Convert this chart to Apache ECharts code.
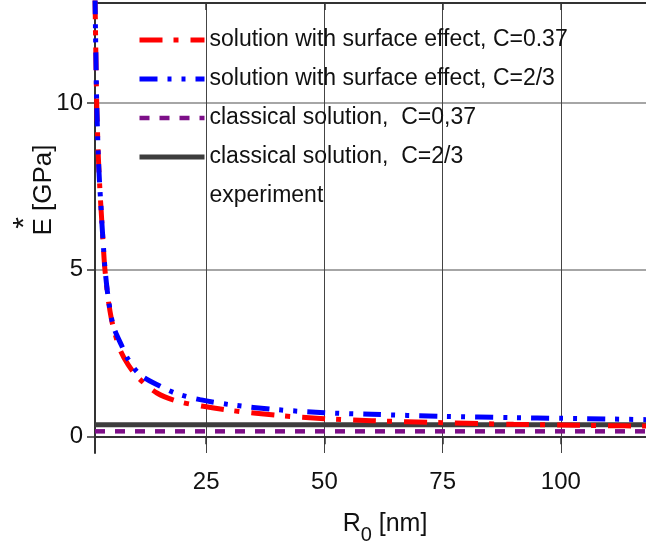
<!DOCTYPE html>
<html>
<head>
<meta charset="utf-8">
<script src="https://cdn.jsdelivr.net/npm/echarts@6/dist/echarts.min.js"></script>
<style>
    html, body { margin: 0; padding: 0; background: #fff; }
    #chart { width: 646px; height: 548px; }
</style>
</head>
<body>
<div id="chart"></div>
<script>
// R0 [nm] / E* [GPa]
var rRed = [1.5, 1.7, 1.86, 2.0, 2.2, 2.5, 2.7, 3.0, 3.3, 3.6, 4.3, 5.0, 5.7, 6.8, 8.5, 10.7, 14.6, 19, 24.4, 30, 40, 50, 60, 75, 90, 100, 110, 118];
var eRed = [13.2, 11.3, 10.0, 9.3, 8.4, 7.5, 7.0, 6.3, 5.6, 5.0, 4.1, 3.5, 3.1, 2.6, 2.15, 1.75, 1.3, 1.05, 0.9, 0.78, 0.63, 0.53, 0.47, 0.41, 0.36, 0.34, 0.32, 0.31];
var rBlue = [1.5, 1.7, 1.86, 2.0, 2.2, 2.5, 2.7, 3.0, 3.3, 3.6, 4.3, 5.4, 7.2, 8.55, 11, 15.3, 18.8, 23.7, 30, 40, 50, 60, 75, 90, 100, 110, 118];
var eBlue = [13.2, 11.3, 10.0, 9.3, 8.4, 7.5, 7.05, 6.3, 5.65, 5.05, 4.15, 3.3, 2.7, 2.3, 1.85, 1.5, 1.28, 1.1, 0.95, 0.8, 0.71, 0.66, 0.6, 0.56, 0.54, 0.52, 0.5];
var rClassic = [1.5, 118];
var eClassic037 = [0.15, 0.15];
var eClassic23 = [0.35, 0.35];
var xTicks = [25, 50, 75, 100];
var yTicks = [0, 5, 10];
var names = [
    'solution with surface effect, C=0.37',
    'solution with surface effect, C=2/3',
    'classical solution,  C=0,37',
    'classical solution,  C=2/3',
    'experiment'
];

function pairs(xs, ys) {
    return xs.map(function (x, i) { return [x, ys[i]]; });
}

var myChart = echarts.init(document.getElementById('chart'), null, { renderer: 'canvas' });
var font = 'Liberation Sans, Arial, sans-serif';

// 线型
var redLine = { color: '#ff0000', width: 5, type: [23, 11, 5, 12] };
var blueLine = { color: '#0000ff', width: 5, type: [18, 10, 4, 10, 4, 10] };
var purpleLine = { color: '#7d0f88', width: 4.5, type: [10, 10] };
var greyLine = { color: '#3d3d3d', width: 5, type: 'solid' };

option = {
    animation: false,
    backgroundColor: '#fff',
    grid: {
        left: 95,
        right: 0,
        top: 3,
        bottom: 95,
        outerBoundsMode: 'none',
        containLabel: false
    },
    legend: {
        orient: 'vertical',
        left: 132,
        top: 22,
        itemWidth: 65,
        itemHeight: 14,
        itemGap: 13,
        itemStyle: { opacity: 0 },
        textStyle: {
            fontFamily: font,
            fontSize: 23,
            color: '#111',
            lineHeight: 26
        },
        data: [
            { name: names[0], lineStyle: redLine },
            { name: names[1], lineStyle: blueLine },
            { name: names[2], lineStyle: purpleLine },
            { name: names[3], lineStyle: greyLine },
            { name: names[4], icon: 'none', lineStyle: { width: 0, opacity: 0 } }
        ]
    },
    xAxis: [{
        type: 'value',
        min: 1.5,
        max: 118,
        name: 'R{sub|0} [nm]',
        nameLocation: 'middle',
        nameGap: 50,
        nameMoveOverlap: false,
        nameTextStyle: {
            fontFamily: font,
            fontSize: 25,
            color: '#111',
            padding: [0, 0, 0, 29],
            verticalAlign: 'top',
            rich: {
                sub: { fontFamily: font, fontSize: 20, color: '#111', padding: [22, 0, 0, 0], verticalAlign: 'top' }
            }
        },
        axisLine: { show: true, lineStyle: { color: '#333', width: 2 } },
        axisTick: { show: true, inside: false, length: 8, customValues: xTicks, lineStyle: { color: '#333', width: 1.5 } },
        axisLabel: { customValues: xTicks, margin: 17, fontFamily: font, fontSize: 24, color: '#111' },
        splitLine: { show: true, lineStyle: { color: '#444', width: 1 } }
    }, {
        type: 'value',
        position: 'top',
        min: 1.5,
        max: 118,
        axisLine: { show: true, lineStyle: { color: '#333', width: 2 } },
        axisTick: { show: true, inside: true, length: 7, customValues: xTicks, lineStyle: { color: '#333', width: 1.5 } },
        axisLabel: { show: false },
        splitLine: { show: false }
    }],
    yAxis: {
        type: 'value',
        min: -0.5,
        max: 13,
        name: 'E [GPa]',
        nameLocation: 'middle',
        nameRotate: 90,
        nameGap: 38,
        nameMoveOverlap: false,
        nameTextStyle: {
            fontFamily: font,
            fontSize: 26,
            color: '#111',
            padding: [0, 0, 0, 76]
        },
        axisLine: { show: true, lineStyle: { color: '#333', width: 2 } },
        axisTick: { show: true, inside: false, length: 8, customValues: yTicks, lineStyle: { color: '#333', width: 1.5 } },
        axisLabel: { customValues: yTicks, margin: 12, fontFamily: font, fontSize: 24, color: '#111' },
        splitLine: { show: true, lineStyle: { color: '#888', width: 1.5 } }
    },
    // E 上方的星号
    graphic: [{
        type: 'text',
        x: 25,
        y: 223,
        rotation: Math.PI / 2,
        style: {
            text: '*',
            fontFamily: font,
            fontSize: 30,
            fill: '#111',
            align: 'center',
            verticalAlign: 'middle'
        }
    }],
    series: [{
        name: names[2],
        type: 'line',
        data: pairs(rClassic, eClassic037),
        showSymbol: false,
        symbol: 'none',
        lineStyle: purpleLine,
        itemStyle: { color: purpleLine.color },
        z: 2
    }, {
        name: names[3],
        type: 'line',
        data: pairs(rClassic, eClassic23),
        showSymbol: false,
        symbol: 'none',
        lineStyle: greyLine,
        itemStyle: { color: greyLine.color },
        z: 2
    }, {
        name: names[0],
        type: 'line',
        data: pairs(rRed, eRed),
        smooth: 0.3,
        showSymbol: false,
        symbol: 'none',
        lineStyle: redLine,
        itemStyle: { color: redLine.color },
        z: 3
    }, {
        name: names[1],
        type: 'line',
        data: pairs(rBlue, eBlue),
        smooth: 0.3,
        showSymbol: false,
        symbol: 'none',
        lineStyle: blueLine,
        itemStyle: { color: blueLine.color },
        z: 4
    }, {
        name: names[4],
        type: 'line',
        data: [],
        showSymbol: false,
        symbol: 'none',
        lineStyle: { color: '#fff', width: 0 },
        itemStyle: { color: '#fff' }
    }]
};
myChart.setOption(option);
</script>
</body>
</html>
